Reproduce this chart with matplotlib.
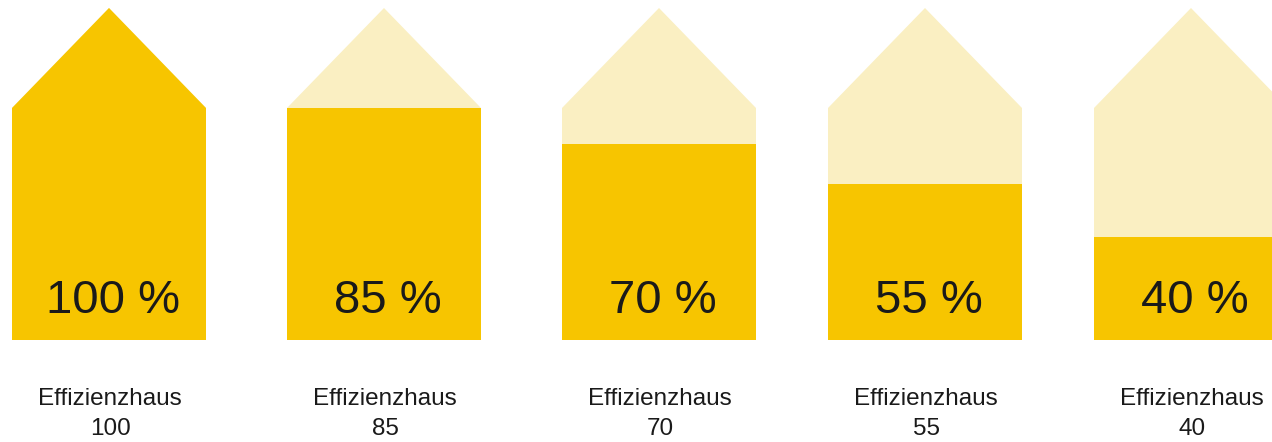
import matplotlib.pyplot as plt
from matplotlib.patches import Polygon, Rectangle

# --- Daten -------------------------------------------------------------------
labels = ['Effizienzhaus\n100', 'Effizienzhaus\n85', 'Effizienzhaus\n70',
          'Effizienzhaus\n55', 'Effizienzhaus\n40']
percent = [100, 85, 70, 55, 40]
# gefüllter Anteil der Hausfläche (Höhe, 1.0 = inkl. Dach)
fill_level = [1.00, 0.70, 0.59, 0.47, 0.31]

# --- Layout (Pixel-Koordinaten) ----------------------------------------------
W, H = 1272, 442
centers = [109, 384, 659, 925, 1191]
half_w = 97
apex_y, eave_y, base_y = 8, 108, 340

DARK = '#F7C500'
LIGHT = '#FAEFC2'
TEXT = '#1a1a1a'

fig = plt.figure(figsize=(W / 100, H / 100), dpi=100)
ax = fig.add_axes([0, 0, 1, 1])
ax.set_xlim(0, W)
ax.set_ylim(H, 0)
ax.axis('off')

for cx, lab, pct, lvl in zip(centers, labels, percent, fill_level):
    pts = [(cx - half_w, base_y), (cx - half_w, eave_y), (cx, apex_y),
           (cx + half_w, eave_y), (cx + half_w, base_y)]
    ax.add_patch(Polygon(pts, closed=True, facecolor=LIGHT, edgecolor='none'))

    # dunkler Teil: gleiches Haus, auf Füllhöhe beschnitten
    top = base_y - lvl * (base_y - apex_y)
    dark = Polygon(pts, closed=True, facecolor=DARK, edgecolor='none')
    ax.add_patch(dark)
    clip = Rectangle((cx - half_w - 2, top), 2 * half_w + 4, base_y - top + 1,
                     transform=ax.transData)
    dark.set_clip_path(clip)

    ax.text(cx + 4, 313, f'{pct} %', ha='center', va='baseline',
            fontsize=34, color=TEXT, family='Liberation Sans')

    line1, line2 = lab.split('\n')
    ax.text(cx + 1, 405, line1, ha='center', va='baseline',
            fontsize=17.5, color=TEXT, family='Liberation Sans')
    ax.text(cx + 1, 435, line2, ha='center', va='baseline',
            fontsize=17.5, color=TEXT, family='Liberation Sans')

fig.savefig('out.png', dpi=100, facecolor='white')
